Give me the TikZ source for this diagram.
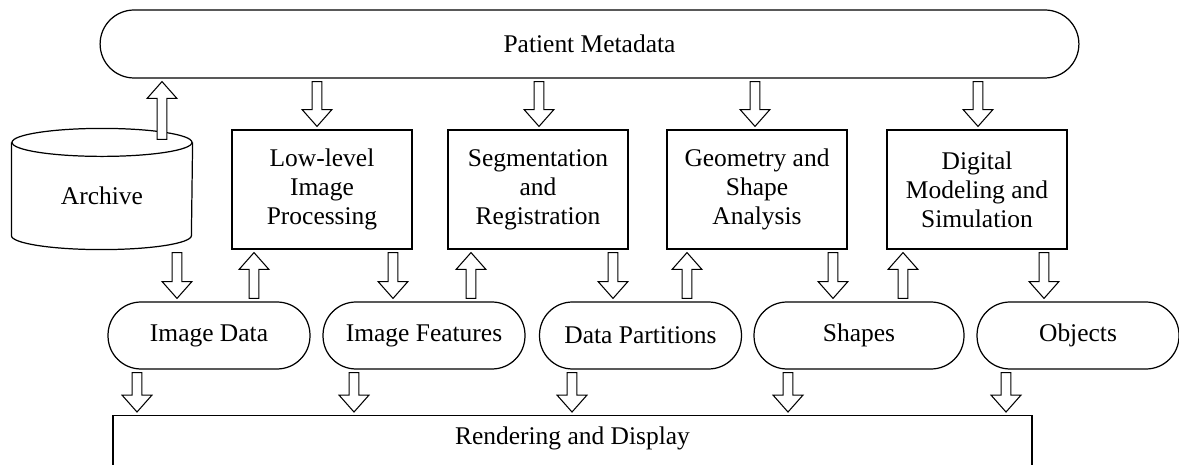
\documentclass[tikz,border=0pt]{standalone}
\usepackage{fontspec}
\setmainfont{Liberation Serif}
\usetikzlibrary{calc}

\begin{document}
\begin{tikzpicture}[x=0.02cm, y=-0.02cm, line width=0.7pt,
    font={\fontsize{14.5pt}{16.5pt}\selectfont},
    stage/.style={draw, align=center, minimum width=3.6cm, minimum height=2.38cm, inner sep=2pt},
    pill/.style={draw, rounded corners=0.66cm, minimum width=4.04cm, minimum height=1.34cm},
    barrow/.style={draw, fill=white, line width=0.6pt,
      to path={let \p1=(\tikztostart), \p2=(\tikztotarget), \n1={ifthenelse(\y2>\y1,1,-1)} in
        (\x2-2.8pt,\y1+\n1*1.7pt) -- (\x2-2.8pt,\y2-\n1*11.3pt) -- (\x2-8.5pt,\y2-\n1*11.3pt)
        -- (\x2,\y2-\n1*1.7pt) -- (\x2+8.5pt,\y2-\n1*11.3pt) -- (\x2+2.8pt,\y2-\n1*11.3pt)
        -- (\x2+2.8pt,\y1+\n1*1.7pt) -- cycle}}]
  \useasboundingbox (0,0) rectangle (1179,465);

  \node (meta) [pill, rounded corners=0.68cm, minimum width=19.58cm, minimum height=1.36cm] at (589.5,44) {Patient Metadata};
  \node (archive) [minimum width=3.6cm, minimum height=2.12cm] at (102,196) {Archive};
  \node (lowlevel) [stage] at (322,189.5) {Low-level\\Image\\Processing};
  \node (seg) [stage] at (538,189.5) {Segmentation\\and\\Registration};
  \node (geom) [stage] at (757,189.5) {Geometry and\\Shape\\Analysis};
  \node (digital) [stage] at (977,189.5) {Digital\\Modeling and\\Simulation};
  \node (imgdata) [pill] at (209,335.5) {Image Data};
  \node (imgfeat) [pill] at (424,335.5) {Image Features};
  \node (datapart) [pill] at (640.5,335.5) {Data Partitions};
  \node (shapes) [pill, minimum width=4.2cm] at (859,335.5) {Shapes};
  \node (objects) [pill] at (1078,335.5) {Objects};
  \node (render) [draw, anchor=north, minimum width=18.38cm, inner sep=0pt, text height=0.58cm, text depth=1.5cm] at (572.5,415) {Rendering and Display};

  % archive drum
  \draw (archive.north) ellipse [x radius=90, y radius=14];
  \draw (archive.north west) -- ($(archive.south west)+(0,-14)$)
    arc [start angle=180, end angle=0, x radius=90, y radius=14] -- (archive.north east);

  \draw[barrow] (archive.north -| 162,0) to (meta.south -| 162,0);
  \foreach \dst/\px in {lowlevel/317, seg/539, geom/755, digital/978}
    \draw[barrow] (meta.south -| \px,0) to (\dst.north -| \px,0);
  \foreach \src/\dst/\px in {archive/imgdata/177, lowlevel/imgfeat/393, seg/datapart/613, geom/shapes/833, digital/objects/1044}
    \draw[barrow] (\src.south -| \px,0) to (\dst.north -| \px,0);
  \foreach \src/\dst/\px in {imgdata/lowlevel/254, imgfeat/seg/471, datapart/geom/687, shapes/digital/903}
    \draw[barrow] (\src.north -| \px,0) to (\dst.south -| \px,0);
  \foreach \src/\px in {imgdata/137, imgfeat/354, datapart/572, shapes/788, objects/1006}
    \draw[barrow] (\src.south -| \px,0) to (render.north -| \px,0);
\end{tikzpicture}
\end{document}
